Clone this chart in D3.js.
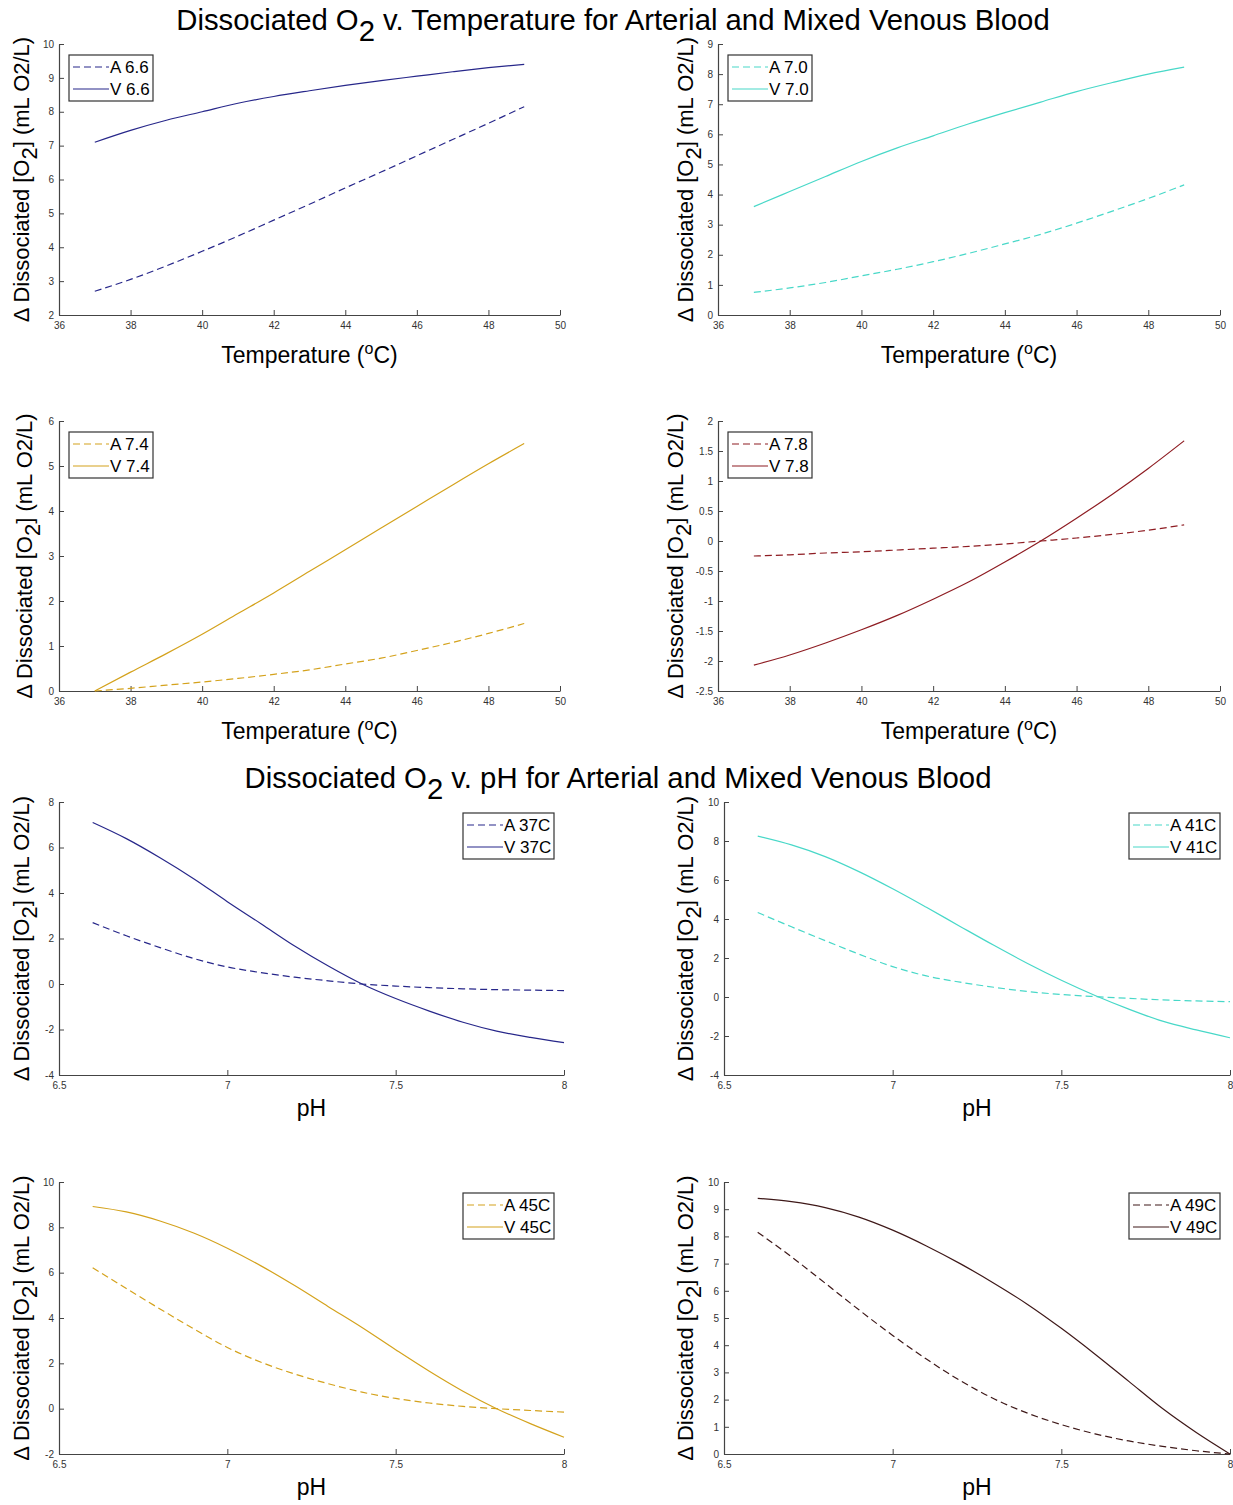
<!DOCTYPE html>
<html>
<head>
<meta charset="utf-8">
<script src="https://cdn.jsdelivr.net/npm/d3@7"></script>
<style>
    body { margin: 0; background: #fff; }
    text { font-family: "Liberation Sans", Arial, Helvetica, sans-serif; }
</style>
</head>
<body>
<svg id="drawing_region"></svg>
<script>
// x values
const temperatures = [37, 38, 39, 40, 41, 42, 43, 44, 45, 46, 47, 48, 49];
const pHs = [6.6, 6.7, 6.8, 6.9, 7.0, 7.1, 7.2, 7.3, 7.4, 7.5, 7.6, 7.7, 7.8, 7.9, 8.0];

// vs temperature, one pair per pH
const a66 = [2.7, 3.05, 3.45, 3.88, 4.33, 4.8, 5.27, 5.75, 6.22, 6.7, 7.18, 7.66, 8.15];
const v66 = [7.1, 7.45, 7.75, 8.0, 8.25, 8.45, 8.62, 8.78, 8.92, 9.05, 9.18, 9.3, 9.4];
const a70 = [0.75, 0.9, 1.08, 1.3, 1.52, 1.77, 2.05, 2.36, 2.68, 3.05, 3.45, 3.87, 4.32];
const v70 = [3.6, 4.1, 4.6, 5.1, 5.55, 5.95, 6.35, 6.72, 7.07, 7.42, 7.72, 8.0, 8.23];
const a74 = [0, 0.06, 0.13, 0.2, 0.28, 0.37, 0.47, 0.6, 0.73, 0.9, 1.08, 1.28, 1.5];
const v74 = [0, 0.42, 0.83, 1.26, 1.72, 2.18, 2.66, 3.14, 3.62, 4.1, 4.58, 5.05, 5.5];
const a78 = [-0.25, -0.23, -0.2, -0.18, -0.15, -0.12, -0.09, -0.05, 0, 0.05, 0.11, 0.18, 0.27];
const v78 = [-2.07, -1.9, -1.7, -1.48, -1.24, -0.97, -0.68, -0.35, 0, 0.38, 0.78, 1.21, 1.67];

// vs pH, one pair per temperature
const a37 = [2.7, 2.12, 1.6, 1.12, 0.75, 0.5, 0.3, 0.14, 0, -0.09, -0.16, -0.21, -0.25, -0.27, -0.29];
const v37 = [7.1, 6.39, 5.55, 4.63, 3.62, 2.65, 1.67, 0.79, 0, -0.64, -1.19, -1.68, -2.07, -2.35, -2.58];
const a41 = [4.33, 3.6, 2.89, 2.2, 1.56, 1.08, 0.76, 0.5, 0.28, 0.13, 0.02, -0.07, -0.15, -0.2, -0.24];
const v41 = [8.25, 7.8, 7.2, 6.43, 5.55, 4.6, 3.62, 2.65, 1.72, 0.86, 0.08, -0.62, -1.24, -1.69, -2.09];
const a45 = [6.22, 5.3, 4.4, 3.52, 2.7, 2.05, 1.53, 1.1, 0.73, 0.45, 0.25, 0.1, 0, -0.08, -0.15];
const v45 = [8.92, 8.68, 8.28, 7.75, 7.08, 6.3, 5.43, 4.5, 3.58, 2.6, 1.65, 0.77, 0, -0.66, -1.26];
const a49 = [8.15, 7.25, 6.28, 5.3, 4.36, 3.49, 2.7, 2.03, 1.5, 1.08, 0.74, 0.48, 0.28, 0.12, 0];
const v49 = [9.4, 9.28, 9.06, 8.71, 8.23, 7.65, 7.0, 6.28, 5.5, 4.62, 3.67, 2.67, 1.67, 0.79, 0];

// tick labels
const tempTicks = [36, 38, 40, 42, 44, 46, 48, 50];
const pHTicks = [6.5, 7, 7.5, 8];
const yTicks66 = [2, 3, 4, 5, 6, 7, 8, 9, 10];
const yTicks70 = [0, 1, 2, 3, 4, 5, 6, 7, 8, 9];
const yTicks74 = [0, 1, 2, 3, 4, 5, 6];
const yTicks78 = [-2.5, -2, -1.5, -1, -0.5, 0, 0.5, 1, 1.5, 2];
const yTicks37 = [-4, -2, 0, 2, 4, 6, 8];
const yTicks41 = [-4, -2, 0, 2, 4, 6, 8, 10];
const yTicks45 = [-2, 0, 2, 4, 6, 8, 10];
const yTicks49 = [0, 1, 2, 3, 4, 5, 6, 7, 8, 9, 10];

const navy = '#27278a';
const turq = '#48d8c8';
const gold = '#d4a21c';
const red = '#8e1c22';
const maroon = '#3e1818';

const svg = d3.select('#drawing_region')
    .attr('width', 1233)
    .attr('height', 1505);

svg.append('rect').attr('width', 1233).attr('height', 1505).attr('fill', '#fff');

function title(y, cx, before, after) {
    let t = svg.append('text')
        .attr('x', cx)
        .attr('y', y)
        .attr('text-anchor', 'middle')
        .attr('font-size', '29.3px')
        .attr('fill', '#000');
    t.append('tspan').text(before);
    t.append('tspan').attr('dy', 11).text('2');
    t.append('tspan').attr('dy', -11).text(after);
}

title(30, 613, 'Dissociated O', ' v. Temperature for Arterial and Mixed Venous Blood');
title(788, 618, 'Dissociated O', ' v. pH for Arterial and Mixed Venous Blood');

class LineChart {
    constructor(config, xs, a, v) {
        this.config = config;
        this.xs = xs;
        this.a = a;
        this.v = v;
        this.init();
    }

    init() {
        let self = this;
        let c = self.config;
        self.xscale = d3.scaleLinear().domain(c.xdomain).range([c.left, c.right]);
        self.yscale = d3.scaleLinear().domain(c.ydomain).range([c.bottom, c.top]);
        self.line = d3.line()
            .x(d => self.xscale(d.x))
            .y(d => self.yscale(d.y))
            .curve(d3.curveMonotoneX);
    }

    render() {
        let self = this;
        let c = self.config;
        let g = svg.append('g');

        // axes, ticks pointing inside like matlab
        let xaxis = d3.axisBottom(self.xscale)
            .tickValues(c.xticks)
            .tickFormat(d => String(d))
            .tickSizeInner(-5)
            .tickSizeOuter(0)
            .tickPadding(7);
        let yaxis = d3.axisLeft(self.yscale)
            .tickValues(c.yticks)
            .tickFormat(d => String(d))
            .tickSizeInner(-5)
            .tickSizeOuter(0)
            .tickPadding(5);

        let xg = g.append('g')
            .attr('transform', `translate(0, ${c.bottom})`)
            .call(xaxis);
        let yg = g.append('g')
            .attr('transform', `translate(${c.left}, 0)`)
            .call(yaxis);
        [xg, yg].forEach(ax => {
            ax.select('.domain').attr('stroke', '#444').attr('stroke-width', 1.2);
            ax.selectAll('.tick line').attr('stroke', '#444');
            ax.selectAll('.tick text')
                .attr('fill', '#333')
                .attr('font-size', '10px')
                .attr('font-family', '"Liberation Sans", Arial, sans-serif');
        });

        // lines
        let aData = self.xs.map((x, i) => ({ x: x, y: self.a[i] }));
        let vData = self.xs.map((x, i) => ({ x: x, y: self.v[i] }));
        g.append('path')
            .attr('d', self.line(aData))
            .attr('fill', 'none')
            .attr('stroke', c.color)
            .attr('stroke-width', 1.2)
            .attr('stroke-dasharray', '7,4');
        g.append('path')
            .attr('d', self.line(vData))
            .attr('fill', 'none')
            .attr('stroke', c.color)
            .attr('stroke-width', 1.2);

        // x label
        let cx = (c.left + c.right) / 2;
        let xl = g.append('text')
            .attr('x', cx)
            .attr('y', c.bottom + c.xlabelOffset)
            .attr('text-anchor', 'middle')
            .attr('font-size', '23px')
            .attr('fill', '#000');
        if (c.xlabel === 'temp') {
            xl.append('tspan').text('Temperature (');
            xl.append('tspan').attr('dy', -9).attr('font-size', '16px').text('o');
            xl.append('tspan').attr('dy', 9).text('C)');
        } else {
            xl.text('pH');
        }

        // y label
        let cy = (c.top + c.bottom) / 2;
        let yl = g.append('text')
            .attr('transform', `translate(${c.ylabelX}, ${cy}) rotate(-90)`)
            .attr('text-anchor', 'middle')
            .attr('font-size', '22px')
            .attr('fill', '#000');
        yl.append('tspan').text('\u0394 Dissociated [O');
        yl.append('tspan').attr('dy', 8).text('2');
        yl.append('tspan').attr('dy', -8).text('] (mL O2/L)');

        // legend
        let lw = c.legendRight ? 91 : 84, lh = 46;
        let lx = c.legendRight ? c.right - 10 - lw : c.left + 10;
        let ly = c.top + 11;
        let lg = g.append('g').attr('transform', `translate(${lx}, ${ly})`);
        lg.append('rect')
            .attr('width', lw)
            .attr('height', lh)
            .attr('fill', '#fff')
            .attr('stroke', '#333')
            .attr('stroke-width', 1.2);
        c.names.forEach((name, i) => {
            let yy = 12 + i * 22;
            lg.append('line')
                .attr('x1', 4)
                .attr('x2', 40)
                .attr('y1', yy)
                .attr('y2', yy)
                .attr('stroke', c.color)
                .attr('stroke-width', 1.2)
                .attr('stroke-dasharray', i === 0 ? '7,4' : null);
            lg.append('text')
                .attr('x', 41)
                .attr('y', yy + 6)
                .attr('font-size', '17px')
                .attr('fill', '#000')
                .text(name);
        });
    }
}

let panels = [
    { left: 59, right: 560, top: 44, bottom: 315, xdomain: [36, 50], ydomain: [2, 10], xticks: tempTicks, yticks: yTicks66,
      color: navy, names: ['A 6.6', 'V 6.6'], xs: temperatures, a: a66, v: v66, xlabel: 'temp', xlabelOffset: 48, ylabelX: 29 },
    { left: 718, right: 1220, top: 44, bottom: 315, xdomain: [36, 50], ydomain: [0, 9], xticks: tempTicks, yticks: yTicks70,
      color: turq, names: ['A 7.0', 'V 7.0'], xs: temperatures, a: a70, v: v70, xlabel: 'temp', xlabelOffset: 48, ylabelX: 693 },
    { left: 59, right: 560, top: 421, bottom: 691, xdomain: [36, 50], ydomain: [0, 6], xticks: tempTicks, yticks: yTicks74,
      color: gold, names: ['A 7.4', 'V 7.4'], xs: temperatures, a: a74, v: v74, xlabel: 'temp', xlabelOffset: 48, ylabelX: 32 },
    { left: 718, right: 1220, top: 421, bottom: 691, xdomain: [36, 50], ydomain: [-2.5, 2], xticks: tempTicks, yticks: yTicks78,
      color: red, names: ['A 7.8', 'V 7.8'], xs: temperatures, a: a78, v: v78, xlabel: 'temp', xlabelOffset: 48, ylabelX: 683 },
    { left: 59, right: 564, top: 802, bottom: 1075, xdomain: [6.5, 8], ydomain: [-4, 8], xticks: pHTicks, yticks: yTicks37,
      color: navy, names: ['A 37C', 'V 37C'], xs: pHs, a: a37, v: v37, xlabel: 'pH', xlabelOffset: 41, ylabelX: 29, legendRight: true },
    { left: 724, right: 1230, top: 802, bottom: 1075, xdomain: [6.5, 8], ydomain: [-4, 10], xticks: pHTicks, yticks: yTicks41,
      color: turq, names: ['A 41C', 'V 41C'], xs: pHs, a: a41, v: v41, xlabel: 'pH', xlabelOffset: 41, ylabelX: 693, legendRight: true },
    { left: 59, right: 564, top: 1182, bottom: 1454, xdomain: [6.5, 8], ydomain: [-2, 10], xticks: pHTicks, yticks: yTicks45,
      color: gold, names: ['A 45C', 'V 45C'], xs: pHs, a: a45, v: v45, xlabel: 'pH', xlabelOffset: 41, ylabelX: 29, legendRight: true },
    { left: 724, right: 1230, top: 1182, bottom: 1454, xdomain: [6.5, 8], ydomain: [0, 10], xticks: pHTicks, yticks: yTicks49,
      color: maroon, names: ['A 49C', 'V 49C'], xs: pHs, a: a49, v: v49, xlabel: 'pH', xlabelOffset: 41, ylabelX: 693, legendRight: true },
];

panels.forEach(p => {
    let chart = new LineChart(p, p.xs, p.a, p.v);
    chart.render();
});
</script>
</body>
</html>
